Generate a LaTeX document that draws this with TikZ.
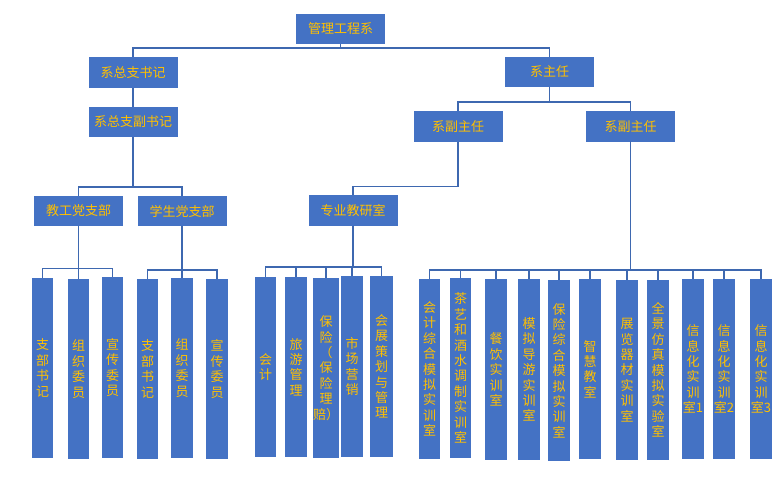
\documentclass[tikz,border=0pt]{standalone}
\usepackage{fontspec}
\setmainfont{Noto Sans CJK SC}
\usetikzlibrary{calc}
\definecolor{boxblue}{HTML}{4472C4}
\definecolor{linkblue}{RGB}{62,104,176}
\definecolor{gold}{HTML}{FFC000}
\tikzset{
  hbox/.style={fill=boxblue, draw=none, text=gold, inner sep=0pt,
    minimum width=89pt, minimum height=30.5pt, font=\fontsize{13pt}{15pt}\selectfont},
  vbox/.style={fill=boxblue, draw=none, text=gold, inner sep=0pt,
    minimum width=22pt, minimum height=180.5pt, align=center,
    font=\fontsize{13pt}{15.4pt}\selectfont},
  link/.style={draw=linkblue, line width=1.2pt}
}
\begin{document}
\begin{tikzpicture}[x=1pt,y=-1pt]
\useasboundingbox (0,0) rectangle (779,482);
% upper boxes
\node[hbox] (top) at (340.5,29) {管理工程系};
\node[hbox] (zsj) at (133,72.5) {系总支书记};
\node[hbox] (zzr) at (549.5,72) {系主任};
\node[hbox] (fsj) at (133,122) {系总支副书记};
\node[hbox] (fzr1) at (458,126.5) {系副主任};
\node[hbox] (fzr2) at (630.5,126.5) {系副主任};
\node[hbox] (jg) at (78.5,211) {教工党支部};
\node[hbox] (xs) at (182,211) {学生党支部};
\node[hbox] (jys) at (353,210.5) {专业教研室};
% bus coordinates
\coordinate (b0) at (0,48);
\coordinate (b1) at (0,102);
\coordinate (b2) at (0,187);
\coordinate (b3) at (0,186.5);
\coordinate (g1) at (0,268.5);
\coordinate (g2) at (0,270);
\coordinate (g3) at (0,267);
\coordinate (g4) at (0,270);
% vertical boxes
\node[vbox, minimum width=21pt] (a1) at (42.5,368) {支\\部\\书\\记};
\node[vbox, minimum width=21pt] (a2) at (78.5,369) {组\\织\\委\\员};
\node[vbox, minimum width=21pt] (a3) at (112.5,367.5) {宣\\传\\委\\员};
\node[vbox, minimum width=21pt] (a4) at (147.5,369) {支\\部\\书\\记};
\node[vbox] (a5) at (182,368) {组\\织\\委\\员};
\node[vbox] (a6) at (217,369) {宣\\传\\委\\员};
\node[vbox, minimum width=21pt] (c1) at (265.5,367) {会\\计};
\node[vbox] (c2) at (296,367) {旅\\游\\管\\理};
\node[vbox] (c3) at (326,368) {保\\险\\（\\保\\险\\理\\赔）};
\node[vbox] (c4) at (352,366.5) {市\\场\\营\\销};
\node[vbox, minimum width=23pt] (c5) at (381.5,366.5) {会\\展\\策\\划\\与\\管\\理};
\node[vbox, minimum width=21pt] (d1) at (429.5,369) {会\\计\\综\\合\\模\\拟\\实\\训\\室};
\node[vbox, minimum width=21pt] (d2) at (460.5,368) {茶\\艺\\和\\酒\\水\\调\\制\\实\\训\\室};
\node[vbox] (d3) at (496,369.5) {餐\\饮\\实\\训\\室};
\node[vbox] (d4) at (529,369.5) {模\\拟\\导\\游\\实\\训\\室};
\node[vbox] (d5) at (559,370.5) {保\\险\\综\\合\\模\\拟\\实\\训\\室};
\node[vbox] (d6) at (590,369) {智\\慧\\教\\室};
\node[vbox] (d7) at (627,370) {展\\览\\器\\材\\实\\训\\室};
\node[vbox] (d8) at (658,370) {全\\景\\仿\\真\\模\\拟\\实\\验\\室};
\node[vbox] (d9) at (693,369) {信\\息\\化\\实\\训\\室1};
\node[vbox] (d10) at (724,369) {信\\息\\化\\实\\训\\室2};
\node[vbox] (d11) at (761,369) {信\\息\\化\\实\\训\\室3};
% connectors
\foreach \c in {zsj,zzr} \draw[link] (top.south) |- (b0 -| \c.north) -- (\c.north);
\draw[link] (zsj.south) -- (fsj.north);
\foreach \c in {fzr1,fzr2} \draw[link] (zzr.south) |- (b1 -| \c.north) -- (\c.north);
\foreach \c in {jg,xs} \draw[link] (fsj.south) |- (b2 -| \c.north) -- (\c.north);
\draw[link] (fzr1.south) |- (b3 -| jys.north) -- (jys.north);
\foreach \c in {a1,a2,a3} \draw[link] (jg.south) |- (g1 -| \c.north) -- (\c.north);
\foreach \c in {a4,a5,a6} \draw[link] (xs.south) |- (g2 -| \c.north) -- (\c.north);
\foreach \c in {c1,c2,c3,c4,c5} \draw[link] (jys.south) |- (g3 -| \c.north) -- (\c.north);
\foreach \c in {d1,d2,d3,d4,d5,d6,d7,d8,d9,d10,d11} \draw[link] (fzr2.south) |- (g4 -| \c.north) -- (\c.north);
\end{tikzpicture}
\end{document}
